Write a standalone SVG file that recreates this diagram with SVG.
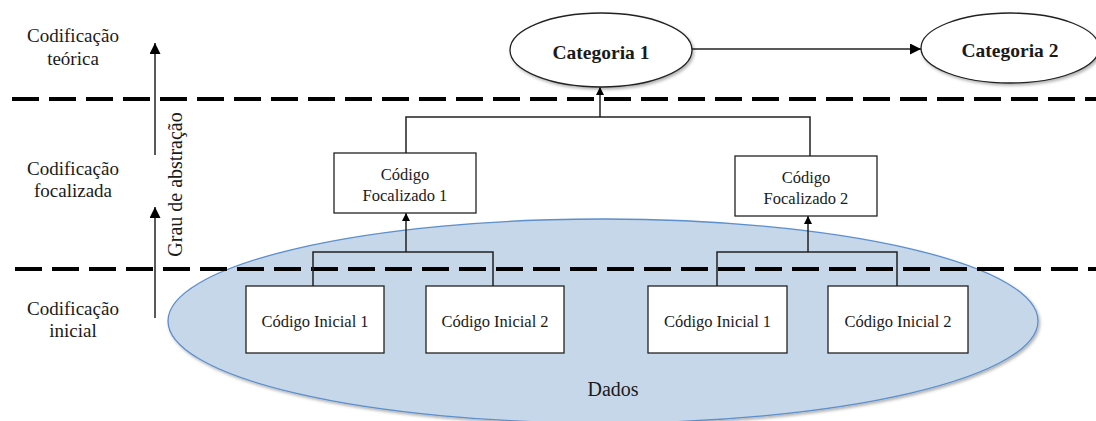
<svg xmlns="http://www.w3.org/2000/svg" width="1096" height="421" viewBox="0 0 1096 421">
<style>
  text { font-family: "Liberation Serif", serif; fill: #1a1a1a; }
  .side { font-size: 19px; text-anchor: middle; }
  .box { fill: #ffffff; stroke: #222222; stroke-width: 1.3; }
  .cat { fill: #ffffff; stroke: #222222; stroke-width: 1.3; }
  .conn { fill: none; stroke: #222222; stroke-width: 1.5; }
  .dash { stroke: #000000; stroke-width: 4; stroke-dasharray: 27 10; }
  .btxt { font-size: 16.5px; text-anchor: middle; }
  .ctxt { font-size: 19.5px; font-weight: bold; text-anchor: middle; }
</style>
<defs>
  <marker id="arr" viewBox="0 0 10 10" refX="10" refY="5" markerWidth="8" markerHeight="8" markerUnits="userSpaceOnUse" orient="auto">
    <path d="M0,0 L10,5 L0,10 z" fill="#000000"/>
  </marker>
  <marker id="arrBig" viewBox="0 0 10 10" refX="10" refY="5" markerWidth="11" markerHeight="11" markerUnits="userSpaceOnUse" orient="auto">
    <path d="M0,0 L10,5 L0,10 z" fill="#000000"/>
  </marker>
  <filter id="sh" x="-10%" y="-10%" width="130%" height="140%">
    <feDropShadow dx="1.5" dy="2" stdDeviation="1.5" flood-color="#000000" flood-opacity="0.3"/>
  </filter>
</defs>

<g id="dados">
  <ellipse cx="603" cy="321" rx="435" ry="102" fill="#c5d7e9" stroke="#5d8fcb" stroke-width="1.3" filter="url(#sh)"/>
  <text x="613" y="396" font-size="20" text-anchor="middle" font-family="Liberation Serif">Dados</text>
</g>

<g id="levels">
  <line class="dash" x1="12" y1="99" x2="1096" y2="99"/>
  <line class="dash" x1="15" y1="269" x2="1096" y2="269"/>
</g>

<g id="side-labels" font-family="Liberation Serif">
  <text class="side" x="73" y="42">Codificação</text>
  <text class="side" x="73" y="65">teórica</text>
  <text class="side" x="73" y="175">Codificação</text>
  <text class="side" x="73" y="197">focalizada</text>
  <text class="side" x="73" y="315">Codificação</text>
  <text class="side" x="73" y="337">inicial</text>
</g>

<g id="abstraction-axis">
  <line class="conn" x1="155" y1="155" x2="155" y2="43" marker-end="url(#arrBig)"/>
  <line class="conn" x1="155" y1="318" x2="155" y2="207" marker-end="url(#arrBig)"/>
  <text x="0" y="0" font-size="20" text-anchor="middle" transform="translate(182,184.5) rotate(-90)">Grau de abstração</text>
</g>

<g id="connectors">
  <path class="conn" d="M406,153 V117 H810 V156"/>
  <line class="conn" x1="600" y1="117" x2="600" y2="87" marker-end="url(#arr)"/>
  <line class="conn" x1="692" y1="49" x2="921" y2="49" marker-end="url(#arrBig)"/>
  <path class="conn" d="M313,286 V252 H493 V286"/>
  <line class="conn" x1="406" y1="252" x2="406" y2="213" marker-end="url(#arr)"/>
  <path class="conn" d="M717,286 V252 H897 V286"/>
  <line class="conn" x1="808" y1="252" x2="808" y2="216" marker-end="url(#arr)"/>
</g>

<g id="categoria1">
  <ellipse class="cat" cx="601" cy="50" rx="91" ry="37" filter="url(#sh)"/>
  <text class="ctxt" x="601" y="59">Categoria 1</text>
</g>
<g id="categoria2">
  <ellipse class="cat" cx="1010" cy="48" rx="89" ry="35" filter="url(#sh)"/>
  <text class="ctxt" x="1010" y="57">Categoria 2</text>
</g>

<g id="focalizado1">
  <rect class="box" x="334" y="153" width="142" height="60"/>
  <text class="btxt" x="405" y="180">Código</text>
  <text class="btxt" x="405" y="201">Focalizado 1</text>
</g>
<g id="focalizado2">
  <rect class="box" x="735" y="156" width="142" height="60"/>
  <text class="btxt" x="806" y="183">Código</text>
  <text class="btxt" x="806" y="204">Focalizado 2</text>
</g>

<g id="inicial1a">
  <rect class="box" x="246" y="286" width="138" height="67"/>
  <text class="btxt" x="315" y="327">Código Inicial 1</text>
</g>
<g id="inicial2a">
  <rect class="box" x="426" y="286" width="138" height="67"/>
  <text class="btxt" x="495" y="327">Código Inicial 2</text>
</g>
<g id="inicial1b">
  <rect class="box" x="648" y="286" width="139" height="67"/>
  <text class="btxt" x="717.5" y="327">Código Inicial 1</text>
</g>
<g id="inicial2b">
  <rect class="box" x="828" y="286" width="140" height="67"/>
  <text class="btxt" x="898" y="327">Código Inicial 2</text>
</g>
</svg>
